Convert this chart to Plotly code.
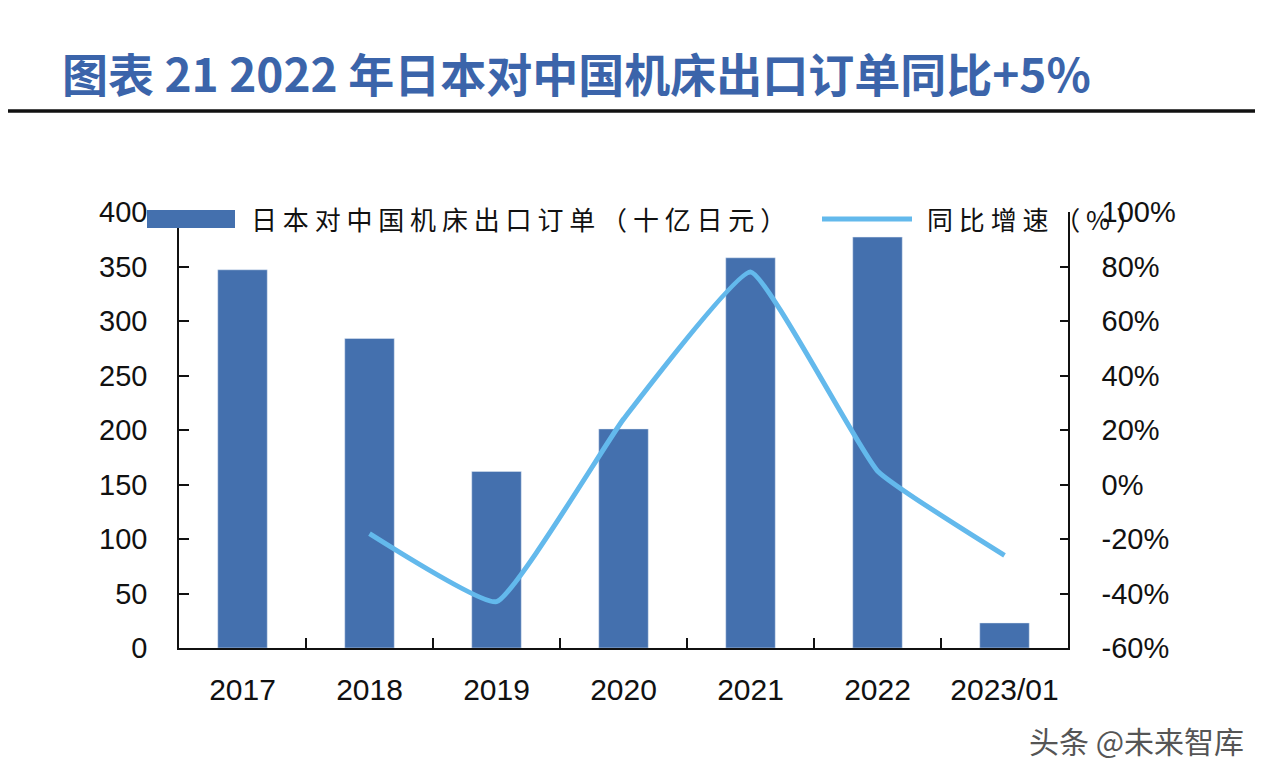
import plotly.graph_objects as go

categories = ["2017", "2018", "2019", "2020", "2021", "2022", "2023/01"]
orders = [347, 284, 162, 201, 358, 377, 23]          # 十亿日元
yoy = [None, -0.18, -0.43, 0.24, 0.78, 0.05, -0.26]  # 同比增速
left_ticks = [0, 50, 100, 150, 200, 250, 300, 350, 400]
right_tickvals = [-0.6, -0.4, -0.2, 0.0, 0.2, 0.4, 0.6, 0.8, 1.0]
right_ticktext = ["-60%", "-40%", "-20%", "0%", "20%", "40%", "60%", "80%", "100%"]
title_text = "图表 21 2022 年日本对中国机床出口订单同比+5%"
bar_name = "日本对中国机床出口订单（十亿日元）"
line_name = "同比增速（%）"
watermark = "头条 @未来智库"

BAR_C = "#4470AE"
LINE_C = "#63B9EC"

# the page body has an 8px margin; figure coordinates = screen coordinates - 8
OFF = 8
W, H = 1268 - 2 * OFF, 774 - 2 * OFF
X0, X1, Y0, Y1 = 179 - OFF, 1068 - OFF, 212 - OFF, 648 - OFF   # plot area in figure px
L, R, T, B = X0, W - X1, Y0, H - Y1
PW, PH = X1 - X0, Y1 - Y0


def px(x):  # screen x -> paper
    return (x - OFF - X0) / PW


def py(y):  # screen y -> paper
    return (Y1 - (y - OFF)) / PH


def spaced(s):
    return " ".join(list(s))


fig = go.Figure()
fig.add_trace(go.Bar(x=categories, y=orders, marker_color=BAR_C, width=0.39,
                     name=bar_name, showlegend=False))
fig.add_trace(go.Scatter(x=categories, y=yoy, yaxis="y2", mode="lines",
                         line=dict(color=LINE_C, width=5, shape="spline", smoothing=0.35),
                         name=line_name, showlegend=False))

num_font = dict(family="Liberation Sans, Arial, sans-serif", size=29, color="#111111")

fig.update_layout(
    width=W, height=H,
    margin=dict(l=L, r=R, t=T, b=B),
    paper_bgcolor="white", plot_bgcolor="white",
    title=dict(text=title_text, x=(62 - OFF) / W, xanchor="left", y=1 - (76 - OFF) / H,
               yanchor="middle",
               font=dict(family="Noto Sans CJK SC, sans-serif", size=46, color="#3B64AA",
                         weight="bold")),
    xaxis=dict(type="category", showline=True, linecolor="#111111", linewidth=1.5,
               ticks="inside", tickson="boundaries", ticklen=10, tickcolor="#111111",
               tickwidth=1.5, showgrid=False, tickfont=dict(num_font, size=30),
               ticklabelstandoff=14, range=[-0.5, 6.5]),
    yaxis=dict(range=[0, 400], tickvals=left_ticks, showline=True, linecolor="#111111",
               linewidth=1.5, ticks="inside", ticklen=10, tickcolor="#111111", tickwidth=1.5,
               showgrid=False, zeroline=False, tickfont=num_font, ticklabelstandoff=24),
    yaxis2=dict(range=[-0.6, 1.0], tickvals=right_tickvals, ticktext=right_ticktext,
                overlaying="y", side="right",
                showline=True, linecolor="#111111", linewidth=1.5, ticks="inside", ticklen=8,
                tickcolor="#111111", tickwidth=1.5, showgrid=False, zeroline=False,
                tickfont=num_font, ticklabelstandoff=26),
    showlegend=False,
)

# title underline
fig.add_shape(type="line", xref="paper", yref="paper", x0=px(OFF), x1=px(1255),
              y0=py(111), y1=py(111), line=dict(color="#111111", width=3.5))

# custom legend (keys + labels)
fig.add_shape(type="rect", xref="paper", yref="paper", x0=px(147), x1=px(235),
              y0=py(228), y1=py(210), fillcolor=BAR_C, line=dict(width=0))
fig.add_shape(type="line", xref="paper", yref="paper", x0=px(822), x1=px(912),
              y0=py(219), y1=py(219), line=dict(color=LINE_C, width=5))
leg_font = dict(family="Noto Sans CJK SC, sans-serif", size=26, color="#111111")
fig.add_annotation(xref="paper", yref="paper", x=px(249), y=py(219), text=spaced(bar_name),
                   showarrow=False, xanchor="left", yanchor="middle", font=leg_font)
fig.add_annotation(xref="paper", yref="paper", x=px(925), y=py(219), text=spaced(line_name),
                   showarrow=False, xanchor="left", yanchor="middle", font=leg_font)

# watermark
fig.add_annotation(xref="paper", yref="paper", x=px(1246), y=py(740), text=watermark,
                   showarrow=False, xanchor="right", yanchor="middle",
                   font=dict(family="Noto Sans CJK SC, sans-serif", size=30, color="#555555"))

fig.write_html("out.html")
